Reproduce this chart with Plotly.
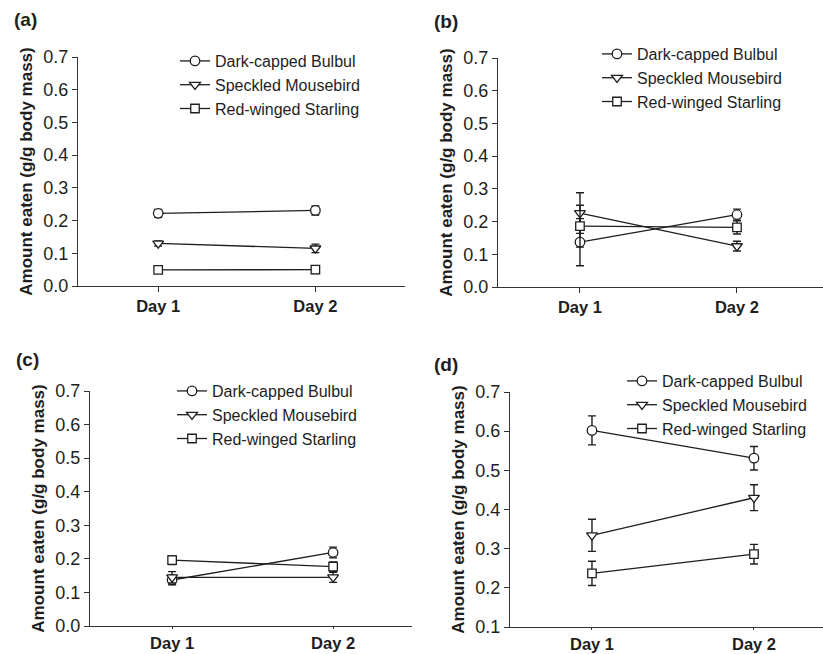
import plotly.graph_objects as go

# Categories and series names
days = ["Day 1", "Day 2"]
species = ["Dark-capped Bulbul", "Speckled Mousebird", "Red-winged Starling"]

# Panel (a): mean amount eaten and SE
a_bulbul = [0.222, 0.231]
a_bulbul_se = [0.012, 0.014]
a_mousebird = [0.130, 0.115]
a_mousebird_se = [0.008, 0.013]
a_starling = [0.049, 0.050]
a_starling_se = [0.008, 0.012]

# Panel (b)
b_bulbul = [0.137, 0.221]
b_bulbul_se = [0.072, 0.017]
b_mousebird = [0.226, 0.125]
b_mousebird_se = [0.062, 0.015]
b_starling = [0.186, 0.182]
b_starling_se = [0.064, 0.020]

# Panel (c)
c_bulbul = [0.137, 0.219]
c_bulbul_se = [0.014, 0.016]
c_mousebird = [0.145, 0.145]
c_mousebird_se = [0.017, 0.015]
c_starling = [0.196, 0.177]
c_starling_se = [0.013, 0.014]

# Panel (d)
d_bulbul = [0.602, 0.531]
d_bulbul_se = [0.037, 0.030]
d_mousebird = [0.334, 0.430]
d_mousebird_se = [0.041, 0.033]
d_starling = [0.237, 0.286]
d_starling_se = [0.031, 0.025]

y_ticks_abc = [0.0, 0.1, 0.2, 0.3, 0.4, 0.5, 0.6, 0.7]
y_ticks_d = [0.1, 0.2, 0.3, 0.4, 0.5, 0.6, 0.7]
panel_labels = ["(a)", "(b)", "(c)", "(d)"]

W, H = 823, 654
INK = "#1e1e1e"
FONT = "Liberation Sans, Arial, sans-serif"
symbols = ["circle", "triangle-down", "square"]
msizes = [9.5, 9.5, 8.5]

panels = [
    ([a_bulbul, a_mousebird, a_starling], [a_bulbul_se, a_mousebird_se, a_starling_se]),
    ([b_bulbul, b_mousebird, b_starling], [b_bulbul_se, b_mousebird_se, b_starling_se]),
    ([c_bulbul, c_mousebird, c_starling], [c_bulbul_se, c_mousebird_se, c_starling_se]),
    ([d_bulbul, d_mousebird, d_starling], [d_bulbul_se, d_mousebird_se, d_starling_se]),
]

# Plot-area geometry in pixels: x0, x1, y_top, y_bottom, x range, y range, x tick length
geom = [
    (78, 405, 57, 286, [-0.51, 1.57], [0, 0.7], 5),
    (498, 823, 58, 287, [-0.522, 1.548], [0, 0.7], 5),
    (90, 412, 391, 626, [-0.51, 1.49], [0, 0.7], 2),
    (510, 823, 392, 627, [-0.506, 1.426], [0.1, 0.7], 2),
]
# Legend anchor (left of text block, top) in pixels
legend_pos = [(175, 44), (597, 37), (172, 374), (622, 364)]
label_pos = [(25, 19), (446, 22), (27, 359), (446, 364)]

fig = go.Figure()
layout = {}
for p, ((series, errs), g) in enumerate(zip(panels, geom)):
    sfx = "" if p == 0 else str(p + 1)
    leg = "legend" if p == 0 else f"legend{p + 1}"
    for s, (vals, se) in enumerate(zip(series, errs)):
        fig.add_trace(go.Scatter(
            x=days, y=vals, name=species[s],
            mode="lines+markers",
            xaxis="x" + sfx, yaxis="y" + sfx, legend=leg,
            line=dict(color=INK, width=1.3),
            marker=dict(symbol=symbols[s], size=msizes[s], color="white",
                        line=dict(color=INK, width=1.3)),
            error_y=dict(type="data", array=se, visible=True,
                         color=INK, thickness=1.4, width=4),
        ))
    x0, x1, yt, yb, xr, yr, xtl = g
    xa = dict(domain=[x0 / W, x1 / W], range=xr, type="category",
              anchor="y" + sfx, automargin=False,
              showline=True, linecolor="#333", linewidth=1.2,
              ticks="outside", ticklen=xtl, tickcolor="#333", showgrid=False,
              zeroline=False, tickfont=dict(family=FONT, size=16.5, color=INK,
                                            weight="bold"))
    ya = dict(domain=[1 - yb / H, 1 - yt / H], range=yr, anchor="x" + sfx,
              automargin=False,
              tickvals=y_ticks_d if p == 3 else y_ticks_abc, tickformat=".1f",
              showline=True, linecolor="#333", linewidth=1.2,
              ticks="outside", ticklen=5, tickcolor="#333", showgrid=False,
              zeroline=False, tickfont=dict(family=FONT, size=18, color=INK),
              title=dict(text="Amount eaten (g/g body mass)", standoff=6,
                         font=dict(family=FONT, size=17, color=INK,
                                   weight="bold")))
    layout["xaxis" + sfx] = xa
    layout["yaxis" + sfx] = ya
    lx, ly = legend_pos[p]
    layout[leg] = dict(x=lx / W, y=1 - ly / H, xanchor="left", yanchor="top",
                       bgcolor="rgba(0,0,0,0)", borderwidth=0,
                       font=dict(family=FONT, size=16, color=INK),
                       tracegroupgap=0, itemwidth=30)

annotations = [
    dict(text=lab, x=px / W, y=1 - py / H, xref="paper", yref="paper",
         showarrow=False, xanchor="center", yanchor="middle",
         font=dict(family=FONT, size=19, color=INK, weight="bold"))
    for lab, (px, py) in zip(panel_labels, label_pos)
]

fig.update_layout(
    width=W, height=H,
    margin=dict(l=0, r=0, t=0, b=0, autoexpand=False),
    paper_bgcolor="white", plot_bgcolor="white",
    showlegend=True, annotations=annotations,
    **layout,
)
fig.write_html("out.html")
